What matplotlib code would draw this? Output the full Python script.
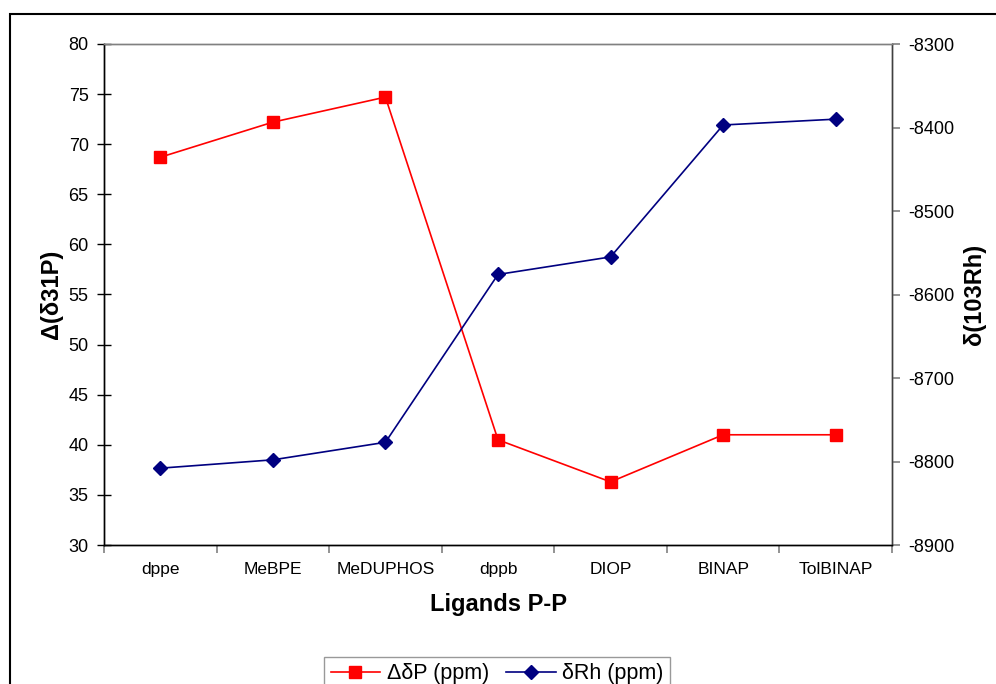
import matplotlib
matplotlib.use("Agg")
import matplotlib.pyplot as plt
from matplotlib.patches import Rectangle
from matplotlib.lines import Line2D

plt.rcParams['font.family'] = ['Liberation Sans', 'DejaVu Sans']
plt.rcParams['axes.unicode_minus'] = False

ligands = ["dppe", "MeBPE", "MeDUPHOS", "dppb", "DIOP", "BINAP", "TolBINAP"]
delta_p = [68.7, 72.2, 74.7, 40.5, 36.3, 41.0, 41.0]
delta_rh = [-8808, -8798, -8777, -8576, -8555, -8397, -8390]

fig = plt.figure(figsize=(9.96, 6.84), dpi=100)
W, H = 996, 684
# outer chart frame
fig.patches.append(Rectangle((10 / W, -0.05), 1.2, 1 - 14 / H + 0.05, transform=fig.transFigure,
                             fill=False, edgecolor='black', linewidth=1.5, zorder=0))

ax = fig.add_axes([104 / W, 1 - 545 / H, (892 - 104) / W, (545 - 44) / H])
ax2 = ax.twinx()

x = list(range(len(ligands)))
ax.plot(x, delta_p, color='#FF0000', marker='s', markersize=8, linewidth=1.2, zorder=3)
ax2.plot(x, delta_rh, color='#000080', marker='D', markersize=7, linewidth=1.2, zorder=3)

ax.set_xlim(-0.5, len(ligands) - 0.5)
ax.set_ylim(30, 80)
ax.set_yticks(range(30, 81, 5))
ax2.set_ylim(-8900, -8300)
ax2.set_yticks(range(-8900, -8299, 100))

ax.set_xticks([i - 0.5 for i in range(len(ligands) + 1)])
ax.set_xticklabels([])
ax.set_xticks(x, minor=True)
ax.set_xticklabels(ligands, minor=True, fontsize=12.5)
ax.tick_params(axis='x', which='minor', length=0, pad=12)
ax.tick_params(axis='x', which='major', direction='out', length=6, color='#808080', width=1.2)
ax.tick_params(axis='y', direction='inout', length=10, labelsize=13, width=1, pad=6)
ax2.tick_params(axis='y', direction='out', length=6, labelsize=13, color='#808080', width=1.2, pad=6)

for a in (ax, ax2):
    for s in a.spines.values():
        s.set_linewidth(1)
    a.set_facecolor('none')
ax.spines['top'].set_color('#808080')
ax.spines['right'].set_color('#404040')
ax2.spines['top'].set_color('#808080')
ax2.spines['right'].set_color('#404040')
ax.spines['left'].set_color('black')
ax.spines['bottom'].set_color('black')

ax.set_xlabel("Ligands P-P", fontsize=17, fontweight='bold', labelpad=12)
ax.set_ylabel("Δ(δ31P)", fontsize=17, fontweight='bold', labelpad=4)
ax2.set_ylabel("δ(103Rh)", fontsize=17, fontweight='bold', labelpad=6)

handles = [Line2D([0], [0], color='#FF0000', marker='s', markersize=8, linewidth=1.2),
           Line2D([0], [0], color='#000080', marker='D', markersize=7, linewidth=1.2)]
leg = fig.legend(handles, ["ΔδP (ppm)", "δRh (ppm)"], loc='upper center',
                 bbox_to_anchor=(497 / W, 1 - 646 / H), ncol=2, fontsize=15.5,
                 frameon=True, fancybox=False, edgecolor='#808080', handlelength=2.3,
                 columnspacing=0.8, handletextpad=0.3, borderpad=0.3)
leg.get_frame().set_linewidth(1)

fig.savefig("out.png", dpi=100)
